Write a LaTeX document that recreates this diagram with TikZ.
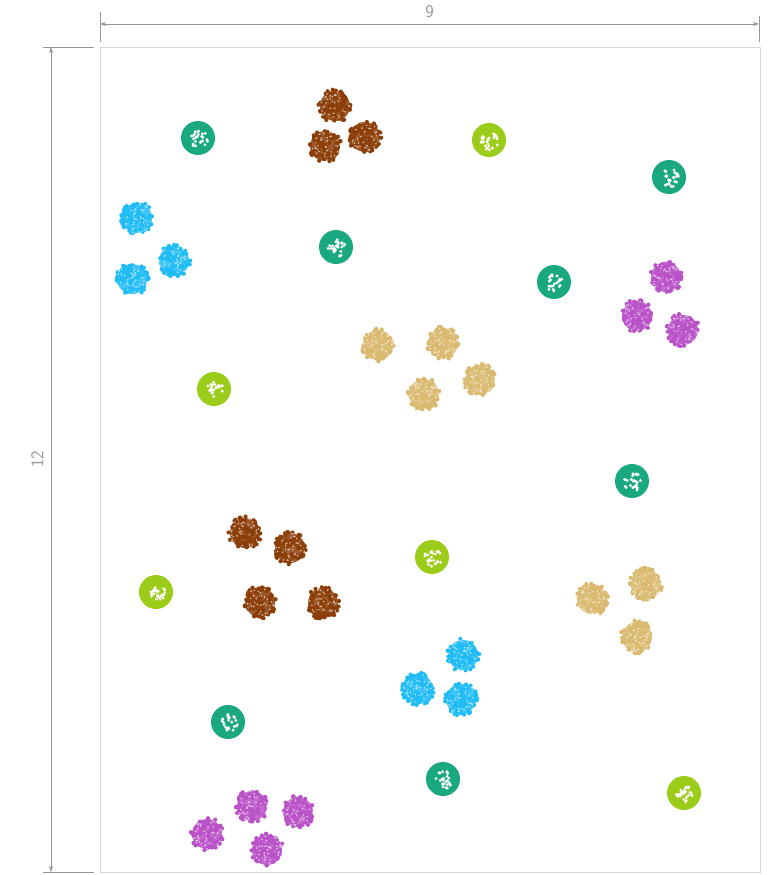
\documentclass[tikz,border=0pt]{standalone}
\usepackage{tikz}
\usetikzlibrary{calc,arrows.meta}
\usepackage{xcolor}
\definecolor{mygray}{RGB}{150,150,150}
\definecolor{myframe}{RGB}{215,215,215}
\definecolor{myteal}{RGB}{26,168,128}
\definecolor{mylime}{RGB}{156,204,26}
\definecolor{mybrown}{RGB}{140,62,8}
\definecolor{mycyan}{RGB}{32,188,246}
\definecolor{mypurple}{RGB}{186,82,200}
\definecolor{mytan}{RGB}{218,186,112}

% speckled cluster
\newcommand{\blob}[3]{%
  \fill[#3!85] (#1,#2) circle (15pt);
  \foreach \k in {1,...,80}{
    \pgfmathsetmacro{\ang}{360*rnd}
    \pgfmathsetmacro{\rad}{16.5*sqrt(rnd)}
    \fill[#3] (#1,#2) ++(\ang:\rad pt) circle (2.1pt);
  }
  \foreach \k in {1,...,35}{
    \pgfmathsetmacro{\ang}{360*rnd}
    \pgfmathsetmacro{\rad}{15*sqrt(rnd)}
    \fill[#3!35!white] (#1,#2) ++(\ang:\rad pt) circle (0.9pt);
  }}
% round marker with a white scribble
\newcommand{\marker}[3]{%
  \fill[#3] (#1,#2) circle (17pt);
  \foreach \k in {1,...,24}{
    \pgfmathsetmacro{\ang}{360*rnd}
    \pgfmathsetmacro{\rad}{9*sqrt(rnd)}
    \fill[white] (#1,#2) ++(1,1) ++(\ang:\rad pt) circle (1.6pt);
  }}

\begin{document}
\begin{tikzpicture}[x=1pt,y=-1pt]
  \useasboundingbox (0,0) rectangle (773,875);
  \pgfmathsetseed{7}

  \coordinate (tl) at (100,47);
  \coordinate (br) at (760,872);
  \draw[myframe,thick] (tl) rectangle (br);

  % dimension lines
  \coordinate (dl) at (100,24);
  \coordinate (dr) at (759,24);
  \coordinate (lt) at (51,47);
  \coordinate (lb) at (51,872);
  \draw[mygray,thick] (100,12)--(100,42) (759,16)--(759,42);
  \draw[mygray,thick] (43,47)--(94,47) (43,872)--(94,872);
  \draw[mygray,thick,{Stealth[length=6pt,width=4pt]}-{Stealth[length=6pt,width=4pt]}] (dl)--(dr)
    node[midway,above=2pt,text=mygray,font=\fontsize{18}{20}\sffamily]{9};
  \draw[mygray,thick,{Stealth[length=6pt,width=4pt]}-{Stealth[length=6pt,width=4pt]}] (lt)--(lb)
    node[midway,left=4pt,rotate=90,anchor=south,text=mygray,font=\fontsize{18}{20}\sffamily]{12};

  % markers
  \foreach \x/\y in {198/138,669/177,336/247,554/282,632/481,228/722,443/779}
    \marker{\x}{\y}{myteal};
  \foreach \x/\y in {489/140,214/389,432/557,156/592,684/793}
    \marker{\x}{\y}{mylime};

  % clusters
  \foreach \x/\y in {335/106,325/146,365/137,245/533,290/548,260/602,323/603}
    \blob{\x}{\y}{mybrown};
  \foreach \x/\y in {137/218,174/261,132/279,463/655,418/689,461/699}
    \blob{\x}{\y}{mycyan};
  \foreach \x/\y in {666/277,637/316,683/330,252/806,298/812,207/834,267/850}
    \blob{\x}{\y}{mypurple};
  \foreach \x/\y in {378/345,443/343,424/394,480/380,592/599,646/584,637/637}
    \blob{\x}{\y}{mytan};
\end{tikzpicture}
\end{document}
